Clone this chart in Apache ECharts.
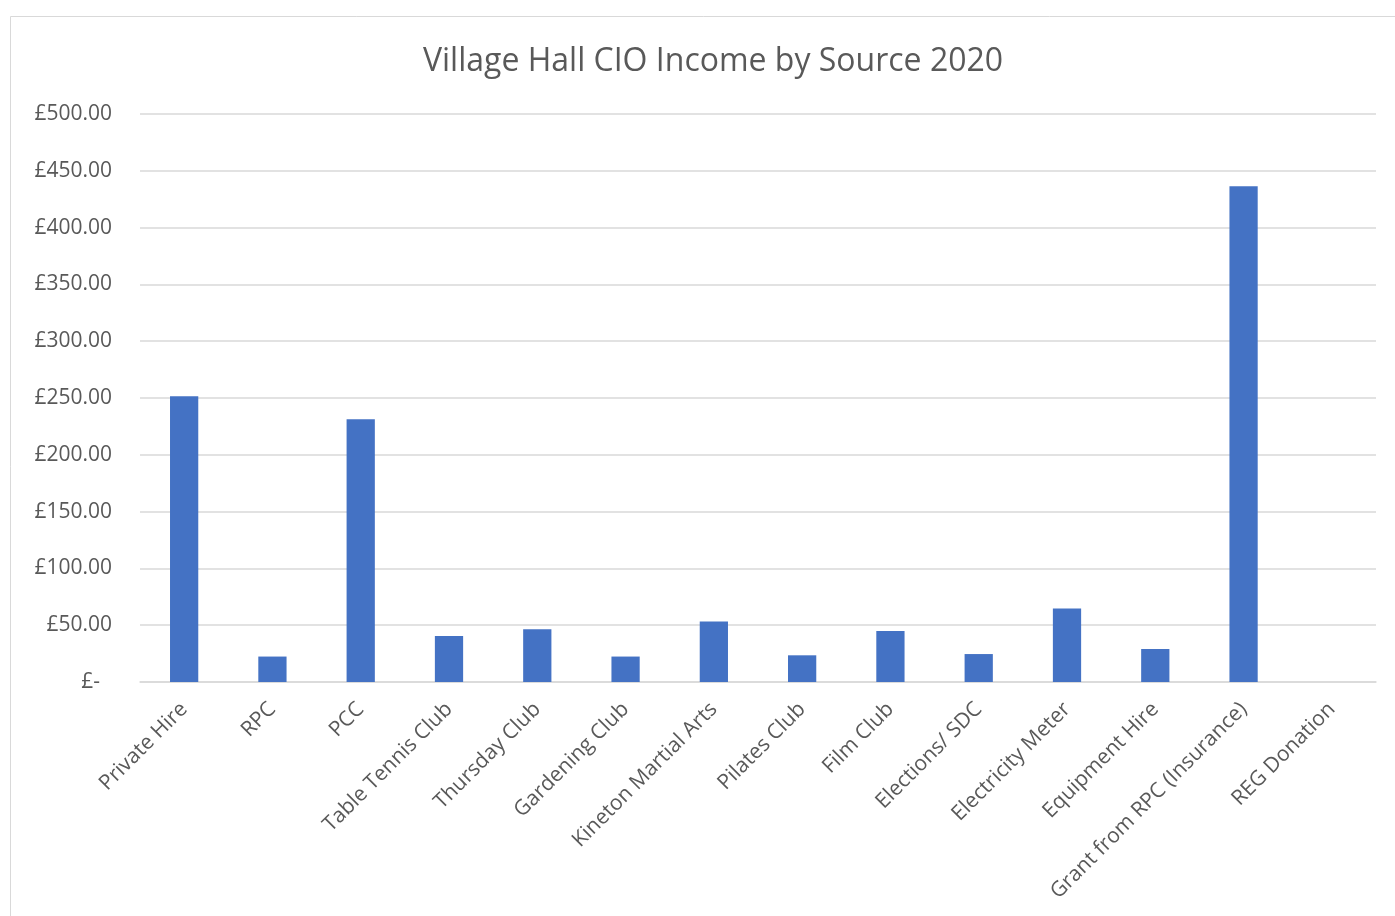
<!DOCTYPE html>
<html>
<head>
<meta charset="utf-8">
<script src="https://cdn.jsdelivr.net/npm/echarts@6/dist/echarts.min.js"></script>
<style>
html,body{margin:0;padding:0;background:#fff;}
#chart{width:1395px;height:916px;}
</style>
</head>
<body>
<div id="chart"></div>
<script>
const titleText = 'Village Hall CIO Income by Source 2020';
const categories = ['Private Hire','RPC','PCC','Table Tennis Club','Thursday Club','Gardening Club','Kineton Martial Arts','Pilates Club','Film Club','Elections/ SDC','Electricity Meter','Equipment Hire','Grant from RPC (Insurance)','REG Donation'];
const income = [251.5, 22.4, 231.2, 40.5, 46.5, 22.4, 53.2, 23.5, 44.9, 24.6, 64.6, 29, 436.4, 0];
const yMin = 0, yMax = 500, yStep = 50;

const chart = echarts.init(document.getElementById('chart'));
const font = '"Open Sans", "Noto Sans", sans-serif';
chart.setOption({
  animation: false,
  graphic: [{
    type: 'rect',
    shape: {x: 10.5, y: 16.5, width: 1400, height: 920},
    style: {fill: 'none', stroke: '#d9d9d9', lineWidth: 1}
  }],
  title: {
    text: titleText,
    left: 708, top: 41, textAlign: 'center',
    textStyle: {fontFamily: font, fontSize: 32, fontWeight: 'normal', color: '#595959'}
  },
  grid: {left: 140, right: 19, top: 114, bottom: 234, containLabel: false},
  xAxis: {
    type: 'category',
    data: categories,
    axisLine: {lineStyle: {color: '#d9d9d9', width: 1.5}},
    axisTick: {show: false},
    axisLabel: {
      interval: 0, rotate: 45, margin: 24,
      fontFamily: font, fontSize: 21, color: '#595959'
    }
  },
  yAxis: {
    type: 'value',
    min: yMin, max: yMax, interval: yStep,
    axisLine: {show: false},
    axisTick: {show: false},
    splitLine: {lineStyle: {color: '#d9d9d9', width: 1.5}},
    axisLabel: {
      margin: 28,
      fontFamily: font, fontSize: 21, color: '#595959',
      formatter: v => v === 0 ? '{z|£-}' : '£' + v.toFixed(2),
      rich: {z: {fontFamily: font, fontSize: 21, color: '#595959', padding: [0, 12, 0, 0]}}
    }
  },
  series: [{
    type: 'bar',
    data: income,
    barWidth: '32%',
    itemStyle: {color: '#4472c4'}
  }]
});
</script>
</body>
</html>
